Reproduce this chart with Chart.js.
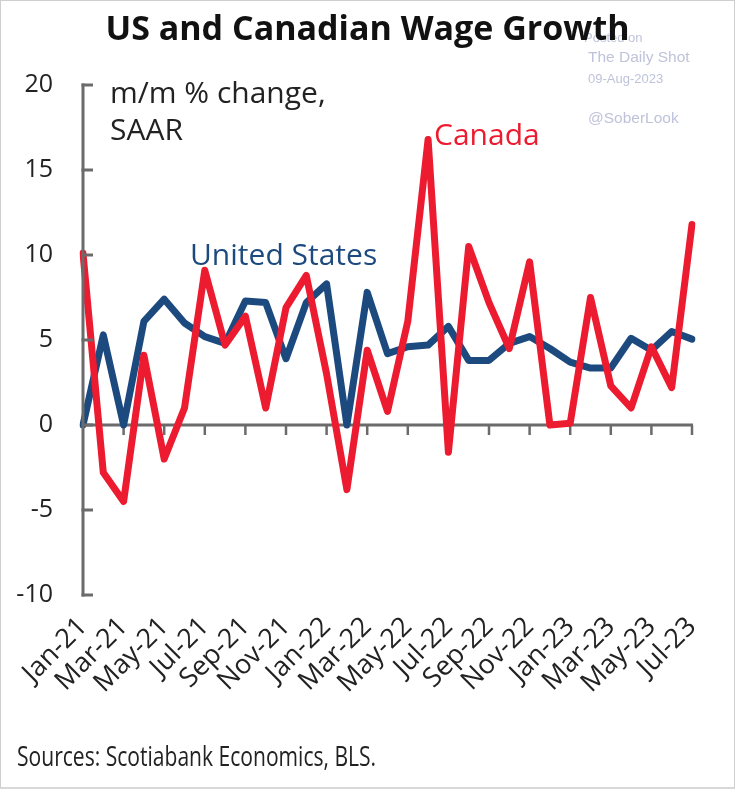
<!DOCTYPE html>
<html>
<head>
<meta charset="utf-8">
<script src="https://cdn.jsdelivr.net/npm/chart.js@4/dist/chart.umd.min.js"></script>
<style>
  html, body { margin:0; padding:0; background:#fff; }
  #wrap { position:relative; width:735px; height:789px; overflow:hidden; }
  #frame { position:absolute; left:0; top:0; width:733px; height:786px; border:1px solid #cfcfcf; border-bottom:2px solid #d8d8d8; pointer-events:none; }
  canvas { position:absolute; left:0; top:0; }
  .t { position:absolute; white-space:nowrap; line-height:1; }
  #title { left:0; width:735px; text-align:center; top:4px; font:bold 34px "Open Sans", sans-serif; color:#111; z-index:3; }
  .wm { font-family:"Liberation Sans", Arial, sans-serif; color:#bfc3da; z-index:1; }
  #unit { left:110px; top:73px; font:30px "Open Sans", sans-serif; color:#222; line-height:37px; }
  #us { left:190px; top:233px; font:30px "Open Sans", sans-serif; color:#1d4a7e; }
  #ca { left:434px; top:113px; font:30px "Open Sans", sans-serif; color:#ec1b30; }
  #src { left:17px; top:737px; font:27px "Open Sans", sans-serif; color:#222; transform:scaleX(0.78); transform-origin:0 0; }
</style>
</head>
<body>
<div id="wrap">
  <canvas id="c" width="735" height="789"></canvas>
  <div class="t wm" style="left:584px;top:31px;font-size:13px;">Posted on</div>
  <div class="t" id="title">US and Canadian Wage Growth</div>
  <div class="t wm" style="left:588px;top:49px;font-size:15.5px;">The Daily Shot</div>
  <div class="t wm" style="left:588px;top:72px;font-size:13px;">09-Aug-2023</div>
  <div class="t wm" style="left:588px;top:110px;font-size:15.5px;">@SoberLook</div>
  <div class="t" id="unit">m/m % change,<br>SAAR</div>
  <div class="t" id="us">United States</div>
  <div class="t" id="ca">Canada</div>
  <div class="t" id="src">Sources: Scotiabank Economics, BLS.</div>
  <div id="frame"></div>
</div>
<script>
const months = ["Jan-21","Feb-21","Mar-21","Apr-21","May-21","Jun-21","Jul-21","Aug-21","Sep-21","Oct-21","Nov-21","Dec-21",
                "Jan-22","Feb-22","Mar-22","Apr-22","May-22","Jun-22","Jul-22","Aug-22","Sep-22","Oct-22","Nov-22","Dec-22",
                "Jan-23","Feb-23","Mar-23","Apr-23","May-23","Jun-23","Jul-23"];
const usValues = [0.0, 5.3, 0.0, 6.1, 7.4, 6.0, 5.2, 4.8, 7.3, 7.2, 3.9, 7.2,
                  8.3, 0.0, 7.8, 4.2, 4.6, 4.7, 5.8, 3.8, 3.8, 4.8, 5.2, 4.5,
                  3.7, 3.35, 3.35, 5.1, 4.4, 5.5, 5.05];
const canadaValues = [10.1, -2.8, -4.5, 4.1, -2.0, 1.0, 9.1, 4.7, 6.4, 1.0, 6.9, 8.8,
                      3.0, -3.8, 4.4, 0.8, 6.1, 16.8, -1.6, 10.5, 7.2, 4.5, 9.6, 0.0,
                      0.1, 7.5, 2.3, 1.0, 4.6, 2.2, 11.8];
const yTicks = [-10, -5, 0, 5, 10, 15, 20];

const axisColor = '#6b6b6b';

const customAxes = {
  id: 'customAxes',
  afterDatasetsDraw(chart) {
    const ctx = chart.ctx;
    const y = chart.scales.y;
    const area = chart.chartArea;
    ctx.save();
    ctx.strokeStyle = axisColor;
    ctx.lineWidth = 3;
    ctx.lineCap = 'butt';
    ctx.beginPath();
    ctx.moveTo(area.left, y.getPixelForValue(yTicks[0]) + 1.5);
    ctx.lineTo(area.left, y.getPixelForValue(yTicks[yTicks.length-1]) - 1.5);
    ctx.stroke();
    yTicks.forEach(v => {
      const py = y.getPixelForValue(v);
      ctx.beginPath();
      ctx.moveTo(area.left - 1.5, py);
      ctx.lineTo(area.left + 10, py);
      ctx.stroke();
    });
    ctx.restore();
  },
  beforeDatasetsDraw(chart) {
    const ctx = chart.ctx;
    const x = chart.scales.x, y = chart.scales.y;
    const area = chart.chartArea;
    const y0 = y.getPixelForValue(0);
    ctx.save();
    ctx.strokeStyle = axisColor;
    ctx.lineWidth = 3;
    ctx.beginPath();
    ctx.moveTo(area.left, y0);
    ctx.lineTo(x.getPixelForValue(months.length - 1) + 1, y0);
    ctx.stroke();
    ctx.lineWidth = 2.5;
    months.forEach((m, i) => {
      if (i % 2 === 0 && i > 0) {
        const px = x.getPixelForValue(i);
        ctx.beginPath();
        ctx.moveTo(px, y0);
        ctx.lineTo(px, y0 + 10);
        ctx.stroke();
      }
    });
    ctx.restore();
  }
};

new Chart(document.getElementById('c'), {
  type: 'line',
  data: {
    labels: months,
    datasets: [
      { label: 'United States', data: usValues, borderColor: '#1d4a7e', borderWidth: 7, order: 1 },
      { label: 'Canada', data: canadaValues, borderColor: '#ec1b30', borderWidth: 7, order: 0 }
    ]
  },
  options: {
    responsive: false,
    animation: false,
    devicePixelRatio: 1,
    layout: { padding: { top: 85, left: 0, right: 43, bottom: 64 } },
    elements: {
      point: { radius: 0, hoverRadius: 0 },
      line: { tension: 0, borderJoinStyle: 'round', borderCapStyle: 'round', fill: false }
    },
    plugins: { legend: { display: false }, tooltip: { enabled: false }, title: { display: false } },
    scales: {
      x: {
        type: 'category',
        offset: false,
        grid: { display: false, drawTicks: false },
        border: { display: false },
        afterFit(s) { s.height = 130; },
        ticks: {
          autoSkip: false,
          maxRotation: 45, minRotation: 45,
          padding: 16,
          color: '#222',
          font: { family: 'Open Sans', size: 27 },
          callback(val, idx) { return idx % 2 === 0 ? months[idx] : null; }
        }
      },
      y: {
        min: -10, max: 20,
        grid: { display: false, drawTicks: false },
        border: { display: false },
        afterFit(s) { s.width = 83; },
        afterBuildTicks(s) { s.ticks = yTicks.map(v => ({ value: v })); },
        ticks: {
          padding: 30,
          color: '#222',
          font: { family: 'Open Sans', size: 25 }
        }
      }
    }
  },
  plugins: [customAxes]
});
</script>
</body>
</html>
